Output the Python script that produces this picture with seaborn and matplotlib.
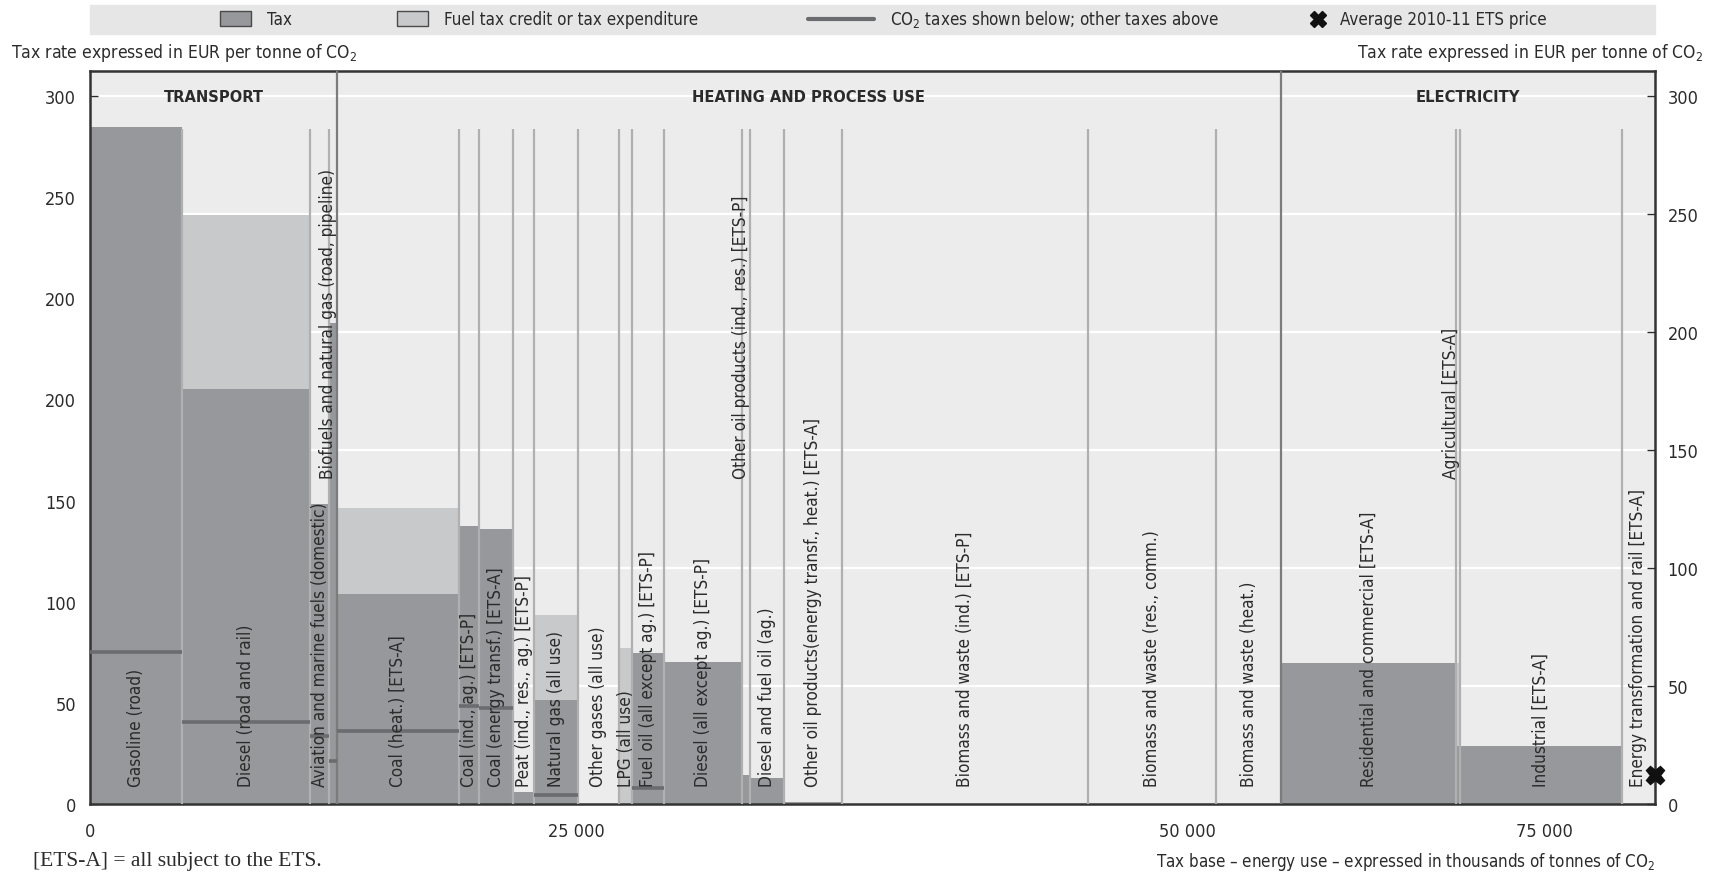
import numpy as np
import matplotlib
matplotlib.use("Agg")
import matplotlib.pyplot as plt
import seaborn as sns
from matplotlib import font_manager
from matplotlib.patches import Rectangle
from matplotlib.lines import Line2D

# --- Données (milliers de tonnes de CO2 / EUR par tonne) ---
categories = [
    "Gasoline (road)", "Diesel (road and rail)", "Aviation and marine fuels (domestic)",
    "Biofuels and natural gas (road, pipeline)",
    "Coal (heat.) [ETS-A]", "Coal (ind., ag.) [ETS-P]", "Coal (energy transf.) [ETS-A]",
    "Peat (ind., res., ag.) [ETS-P]", "Natural gas (all use)", "Other gases (all use)",
    "LPG (all use)", "Fuel oil (all except ag.) [ETS-P]", "Diesel (all except ag.) [ETS-P]",
    "Other oil products (ind., res.) [ETS-P]", "Diesel and fuel oil (ag.)",
    "Other oil products(energy transf., heat.) [ETS-A]",
    "Biomass and waste (ind.) [ETS-P]", "Biomass and waste (res., comm.)",
    "Biomass and waste (heat.)",
    "Residential and commercial [ETS-A]", "Agricultural [ETS-A]", "Industrial [ETS-A]",
    "Energy transformation and rail [ETS-A]",
]
energy_use = [4710, 6600, 980, 400,
              6260, 1050, 1770, 1070, 2230, 2120, 680, 1650, 4020, 390, 1770, 2940,
              12650, 6600, 3340,
              8980, 220, 8310, 1710]
tax_rate = [287, 176, 127, 204,
            89, 118, 116.5, 5, 44, 0, 0, 64, 60, 12.3, 11, 1,
            0, 0, 0,
            59.6, 24.4, 24.4, 0]
credit = [0, 73.6, 0, 0,
          36.4, 0, 0, 0, 36.2, 0, 66, 0, 0, 0, 0, 0,
          0, 0, 0,
          0, 35.2, 0, 0]
co2_tax = [64.3, 34.6, 29, 18.3,
           31.1, 41.4, 40.7, np.nan, 3.9, np.nan, np.nan, 6.8, np.nan, np.nan, np.nan, np.nan,
           np.nan, np.nan, np.nan,
           np.nan, np.nan, np.nan, np.nan]
sections = ["TRANSPORT", "HEATING AND PROCESS USE", "ELECTRICITY"]
section_counts = [4, 15, 4]
raised_labels = ["Biofuels and natural gas (road, pipeline)",
                 "Other oil products (ind., res.) [ETS-P]", "Agricultural [ETS-A]"]
ets_price = 12.3
left_tick_labels = ["0", "50", "100", "150", "200", "200", "250", "300"]
right_ticks = [0, 50, 100, 150, 200, 250, 300]
x_tick_labels = ["0", "25 000", "50 000", "75 000"]
x_tick_pos = [0, 25000, 56400, 74750]

# --- Style ---
sns.set_theme(style="white")
names = {f.name for f in font_manager.fontManager.ttflist}
FONT = "Liberation Sans Narrow" if "Liberation Sans Narrow" in names else "DejaVu Sans"
plt.rcParams["font.family"] = [FONT, "DejaVu Sans"]
if FONT == "DejaVu Sans":
    plt.rcParams["font.stretch"] = "condensed"
plt.rcParams["mathtext.fontset"] = "custom"
plt.rcParams["mathtext.rm"] = FONT

TAX = "#97989b"
CREDIT = "#c8c9cb"
LINE = "#6b6c6f"
BG = "#ececec"
TXT = "#2b2b2b"
FS_TICK = 13
FS_BAR = 12.3
FS_TXT = 12.2

W, H = 1721, 879
fig = plt.figure(figsize=(W / 100, H / 100), dpi=100)
fx = lambda px: px / W
fy = lambda py: 1 - py / H

ax = fig.add_axes([fx(90), fy(805), fx(1655) - fx(90), fy(72) - fy(805)])
ax.set_facecolor(BG)

edges = np.concatenate([[0], np.cumsum(energy_use)])
lefts = edges[:-1]
rights = edges[1:]
centers = (lefts + rights) / 2
xmax = edges[-1]
ymax = 310.6

# Lignes de grille blanches
ax.hlines(right_ticks[1:], 0, xmax, color="white", lw=1.6, zorder=0.5)

# Barres : taxe + crédit d'impôt
ax.bar(lefts, tax_rate, width=energy_use, align="edge", color=TAX, lw=0, zorder=2)
ax.bar(lefts, credit, width=energy_use, bottom=tax_rate, align="edge", color=CREDIT, lw=0, zorder=2)

# Séparateurs
sec_bounds = np.cumsum(section_counts)[:-1]
for i, b in enumerate(edges[1:-1], start=1):
    if i in sec_bounds:
        ax.axvline(b, color="#7c7c7c", lw=1.6, zorder=3)
    else:
        ax.vlines(b, 0, 286, color="#b0b0b0", lw=1.6, zorder=3)

# Taxes CO2
for l, r, c in zip(lefts, rights, co2_tax):
    if not np.isnan(c):
        ax.hlines(c, l, r, color=LINE, lw=2.6, zorder=4)

# Étiquettes des barres
for cat, c, r in zip(categories, centers, rights):
    if cat in raised_labels:
        ax.text(r, 138, cat, rotation=90, ha="right", va="bottom", fontsize=FS_BAR, color=TXT, zorder=5)
    else:
        ax.text(c, 7.5, cat, rotation=90, ha="center", va="bottom", fontsize=FS_BAR, color=TXT, zorder=5)

# Titres des sections
sec_edges = np.concatenate([[0], edges[np.cumsum(section_counts)]])
for name, a, b in zip(sections, sec_edges[:-1], sec_edges[1:]):
    ax.text((a + b) / 2, 300, name, ha="center", va="center", fontsize=11.8,
            fontweight="bold", color=TXT, zorder=5)

# Prix ETS
ax.plot([xmax], [ets_price], marker="X", ms=13, color="#111111", ls="", clip_on=False, zorder=6)

ax.set_xlim(0, xmax)
ax.set_ylim(0, ymax)
ax.set_yticks(np.linspace(0, 300, len(left_tick_labels)))
ax.set_yticklabels(left_tick_labels)
ax.set_xticks(x_tick_pos)
ax.set_xticklabels(x_tick_labels)
ax.tick_params(axis="x", length=0, pad=13, labelsize=FS_TICK, colors=TXT)
ax.tick_params(axis="y", direction="in", length=6, width=1, pad=10, labelsize=FS_TICK,
               colors=TXT, left=True)
for s in ax.spines.values():
    s.set_color("#333333")
    s.set_linewidth(1.8)

ax2 = ax.twinx()
ax2.set_ylim(0, ymax)
ax2.set_yticks(right_ticks)
ax2.tick_params(axis="y", direction="in", length=6, width=1, pad=9, labelsize=FS_TICK,
                colors=TXT, right=True)
for s in ax2.spines.values():
    s.set_visible(False)

# Titres des axes et note
ytitle = r"Tax rate expressed in EUR per tonne of CO$_\mathregular{2}$"
fig.text(fx(11), fy(53), ytitle, ha="left", va="center", fontsize=12.6, color=TXT)
fig.text(fx(1703), fy(53), ytitle, ha="right", va="center", fontsize=12.6, color=TXT)
fig.text(fx(1655), fy(862),
         r"Tax base – energy use – expressed in thousands of tonnes of CO$_\mathregular{2}$",
         ha="right", va="center", fontsize=FS_TXT, color=TXT)
fig.text(fx(33), fy(862), "[ETS-A] = all subject to the ETS.", ha="left", va="center",
         fontsize=15.5, color=TXT, family=["Liberation Serif", "DejaVu Serif"])

# Légende dans un bandeau gris
fig.add_artist(Rectangle((fx(90), fy(35)), fx(1655) - fx(90), fy(5.5) - fy(35),
                         transform=fig.transFigure, color="#e6e6e6", zorder=0))
ly = fy(20)
for x0, col, lab in [(220, TAX, "Tax"), (397, CREDIT, "Fuel tax credit or tax expenditure")]:
    fig.add_artist(Rectangle((fx(x0), fy(27)), fx(31), 15 / H, transform=fig.transFigure,
                             facecolor=col, edgecolor="#4a4a4a", lw=1))
    fig.text(fx(x0 + 47), ly, lab, ha="left", va="center", fontsize=FS_TXT, color=TXT)
fig.add_artist(Line2D([fx(808), fx(874)], [ly, ly], transform=fig.transFigure, color=LINE, lw=3))
fig.text(fx(890), ly, r"CO$_\mathregular{2}$ taxes shown below; other taxes above",
         ha="left", va="center", fontsize=FS_TXT, color=TXT)
fig.add_artist(Line2D([fx(1318)], [ly], transform=fig.transFigure, marker="X", ms=12,
                      color="#111111", ls=""))
fig.text(fx(1340), ly, "Average 2010-11 ETS price", ha="left", va="center", fontsize=FS_TXT, color=TXT)

fig.savefig("out.png", dpi=100)
plt.close(fig)
